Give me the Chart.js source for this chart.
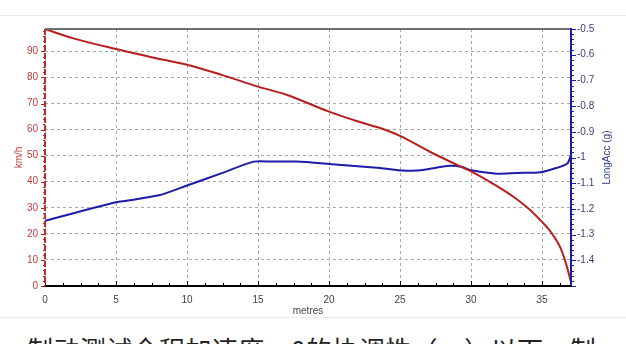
<!DOCTYPE html>
<html>
<head>
<meta charset="utf-8">
<script src="https://cdn.jsdelivr.net/npm/chart.js@4/dist/chart.umd.min.js"></script>
<style>
  html, body { margin: 0; padding: 0; background: #fff; width: 626px; height: 344px; overflow: hidden; }
  #box { position: absolute; left: 0; top: 15px; width: 626px; height: 301px;
         border-top: 1px solid #ececec; border-bottom: 1px solid #ececec; }
  #capclip { position: absolute; left: 27px; top: 337px; width: 599px; height: 7px; overflow: hidden; }
  #caption { display: block; font-family: "Noto Sans CJK SC", sans-serif; font-size: 26px; line-height: 26px;
             color: #222; white-space: nowrap; letter-spacing: 0.4px; }
</style>
</head>
<body>
<div id="box"><canvas id="chart" width="626" height="301"></canvas></div>
<div id="capclip"><span id="caption">制动测试全程加速度、0的协调性（一）以下一制</span></div>
<script>
// Speed trace (km/h) against distance (metres)
const speedDist = [0, 2, 5, 7.5, 10, 12.5, 15, 17, 20, 22, 23.6, 25, 27.1, 29, 30, 31.8, 33.2, 34.2, 35, 35.6, 36.3, 36.7, 37.04];
const speedKmh = [98.6, 95.0, 90.9, 87.8, 84.9, 80.9, 76.5, 73.4, 66.9, 63.2, 60.6, 57.6, 51.5, 46.5, 44.0, 38.4, 33.4, 29.0, 24.6, 20.9, 14.6, 8.4, 1.5];

// Longitudinal acceleration (g) against distance (metres)
const accDist = [0, 5, 5.75, 8.1, 10.1, 12.5, 14.7, 16, 17.7, 20, 23.6, 25.2, 26.1, 27.2, 28.5, 29.3, 30, 31.8, 33.2, 34.9, 36, 36.8, 37.04];
const accG = [-1.246, -1.174, -1.168, -1.146, -1.107, -1.060, -1.016, -1.016, -1.016, -1.025, -1.041, -1.051, -1.051, -1.043, -1.032, -1.036, -1.050, -1.063, -1.060, -1.057, -1.041, -1.022, -0.990];

// Axis ranges
const X_MAX = 37.04;
const SPEED_MAX = 98.6;
const ACC_MIN = -1.5;
const ACC_MAX = -0.5;

const FONT = { family: 'Arial, "Liberation Sans", sans-serif', size: 10 };
const RED = '#b81e1e';
const BLUE = '#1c1ca8';
const GRID = '#a8a8a8';

// Only the top of the caption line shows in the window: line its glyph tops up with the clip box
(function alignCaption() {
  const c = document.createElement('canvas').getContext('2d');
  c.font = '26px "Noto Sans CJK SC", sans-serif';
  const m = c.measureText('制');
  const fa = m.fontBoundingBoxAscent, fd = m.fontBoundingBoxDescent, ga = m.actualBoundingBoxAscent;
  if (isFinite(fa) && isFinite(ga)) {
    const offset = (26 - (fa + fd)) / 2 + fa - ga;
    document.getElementById('caption').style.marginTop = (-offset) + 'px';
  }
})();

// Frame lines, minor ticks and the right-hand title (which reads bottom-to-top)
const frameAndTicks = {
  id: 'frameAndTicks',
  afterDatasetsDraw(chart) {
    const { ctx, chartArea: a, scales } = chart;
    const x = scales.x, y = scales.y, y1 = scales.y1;
    ctx.save();

    // x-axis ticks, pointing up into the plot
    ctx.strokeStyle = '#000';
    ctx.lineWidth = 1;
    ctx.beginPath();
    for (let i = 0; i * 1.25 <= X_MAX; i++) {
      const px = Math.round(x.getPixelForValue(i * 1.25)) + 0.5;
      const len = i % 4 === 0 ? 5 : 3;
      ctx.moveTo(px, a.bottom);
      ctx.lineTo(px, a.bottom - len);
    }
    ctx.stroke();

    // right axis ticks, pointing outwards
    ctx.strokeStyle = BLUE;
    ctx.beginPath();
    for (let i = 0; i <= 50; i++) {
      const py = Math.round(y1.getPixelForValue(ACC_MIN + i * 0.02)) + 0.5;
      const len = i % 5 === 0 ? 5 : 3;
      ctx.moveTo(a.right, py);
      ctx.lineTo(a.right + len, py);
    }
    ctx.stroke();

    // left axis ticks, pointing outwards
    ctx.strokeStyle = RED;
    ctx.beginPath();
    for (let v = 0; v <= SPEED_MAX; v += 2) {
      const py = Math.round(y.getPixelForValue(v)) + 0.5;
      const len = v % 10 === 0 ? 4 : 2;
      ctx.moveTo(a.left, py);
      ctx.lineTo(a.left - len, py);
    }
    ctx.stroke();

    // frame
    ctx.lineWidth = 2;
    ctx.strokeStyle = '#6e6e6e';
    ctx.beginPath(); ctx.moveTo(a.left, a.top); ctx.lineTo(a.right, a.top); ctx.stroke();
    ctx.strokeStyle = '#000';
    ctx.beginPath(); ctx.moveTo(a.left, a.bottom); ctx.lineTo(a.right + 1, a.bottom); ctx.stroke();
    ctx.strokeStyle = BLUE;
    ctx.beginPath(); ctx.moveTo(a.right, a.top - 1); ctx.lineTo(a.right, a.bottom); ctx.stroke();
    ctx.strokeStyle = '#c42a2a';
    ctx.setLineDash([6, 2]);
    ctx.beginPath(); ctx.moveTo(a.left, a.top); ctx.lineTo(a.left, a.bottom); ctx.stroke();
    ctx.setLineDash([]);

    // right title
    ctx.fillStyle = '#34408e';
    ctx.font = '10px ' + FONT.family;
    ctx.textAlign = 'center';
    ctx.textBaseline = 'middle';
    ctx.translate(y1.right - 19, (a.top + a.bottom) / 2);
    ctx.rotate(-Math.PI / 2);
    ctx.fillText('LongAcc (g)', 0, 0);
    ctx.restore();
  }
};

new Chart(document.getElementById('chart'), {
  type: 'line',
  data: {
    datasets: [
      {
        label: 'km/h',
        data: speedDist.map((d, i) => ({ x: d, y: speedKmh[i] })),
        yAxisID: 'y',
        borderColor: RED,
        borderWidth: 2,
        pointRadius: 0,
        cubicInterpolationMode: 'monotone',
        clip: 3,
      },
      {
        label: 'LongAcc (g)',
        data: accDist.map((d, i) => ({ x: d, y: accG[i] })),
        yAxisID: 'y1',
        borderColor: BLUE,
        borderWidth: 2,
        pointRadius: 0,
        tension: 0.25,
        clip: 3,
      },
    ],
  },
  options: {
    responsive: false,
    animation: false,
    layout: { padding: { top: 7, left: 0, right: 0, bottom: 0 } },
    plugins: { legend: { display: false }, tooltip: { enabled: false } },
    scales: {
      x: {
        type: 'linear',
        min: 0,
        max: X_MAX,
        afterFit(scale) { scale.height = 31; },
        ticks: { stepSize: 5, includeBounds: false, color: '#444', font: FONT, padding: 8, maxRotation: 0 },
        grid: { color: GRID, drawTicks: false },
        border: { display: false, dash: [3, 3] },
        title: { display: true, text: 'metres', color: '#444', font: FONT, padding: { top: 0, bottom: 0 } },
      },
      y: {
        position: 'left',
        min: 0,
        max: SPEED_MAX,
        afterFit(scale) { scale.width = 45; },
        ticks: { stepSize: 10, includeBounds: false, color: '#c23b3b', font: FONT, padding: 7 },
        grid: { color: GRID, drawTicks: false },
        border: { display: false, dash: [3, 3] },
        title: { display: true, text: 'km/h', color: '#c23b3b', font: FONT, padding: { top: 13, bottom: 0 } },
      },
      y1: {
        position: 'right',
        min: ACC_MIN,
        max: ACC_MAX,
        afterFit(scale) { scale.width = 55; },
        ticks: {
          stepSize: 0.1,
          color: '#3a3f7a',
          font: FONT,
          padding: 6,
          callback: (v) => (v < -1.45 ? '' : String(Math.round(v * 10) / 10)),
        },
        grid: { drawOnChartArea: false, drawTicks: false },
        border: { display: false },
      },
    },
  },
  plugins: [frameAndTicks],
});
</script>
</body>
</html>
